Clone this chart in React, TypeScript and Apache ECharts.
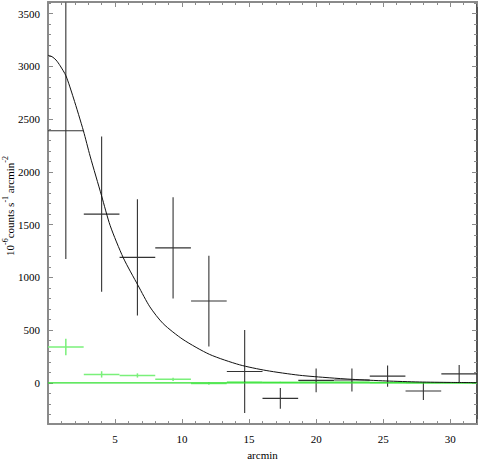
import React, { useEffect, useRef } from "react";
import * as echarts from "echarts";

// Radial bins (arcmin)
const binCenters = [1.33, 4, 6.67, 9.33, 12, 14.67, 17.33, 20, 22.67, 25.33, 28, 30.67];
const binHalfWidths = [1.33, 1.33, 1.33, 1.33, 1.33, 1.33, 1.33, 1.33, 1.33, 1.33, 1.33, 1.33];

// Source profile (black)
const sourceValues = [2390, 1600, 1190, 1280, 776, 108, -146, 24, 28, 65, -77, 86];
const sourceErrors = [1215, 735, 550, 480, 430, 393, 98, 112, 108, 100, 85, 85];

// Background profile (green)
const bgValues = [340, 81, 71, 34, -6, 9, 6, 10, 8, 4, 2, 2];
const bgErrors = [78, 30, 20, 15, 10, 8, 6, 6, 5, 5, 4, 4];

// Model curve (black)
const modelX = [0, 0.3, 0.6, 0.91, 1.34, 1.9, 2.64, 3.14, 4.0, 4.64, 5.62, 6.73, 7.6, 8.59, 10.07, 12.06, 14.29, 16.27, 18.74, 20.97, 22.7, 25.2, 27.7, 30, 32];
const modelY = [3105, 3092, 3060, 3005, 2910, 2700, 2390, 2150, 1772, 1490, 1185, 921, 721, 562, 412, 270, 172, 118, 73, 49, 34, 19, 9, 5, 3];

// Background model (green)
const bgModelX = [0, 32];
const bgModelY = [0, 0];

const xTickStep = 5;
const yTickStep = 500;

// Y axis title pieces: [text, isSuperscript]
const yTitleParts: [string, boolean][] = [
  ["10", false],
  ["-6", true],
  ["counts s", false],
  ["-1", true],
  [" arcmin", false],
  ["-2", true],
];

const FAMILY = "Liberation Serif";
const FONT = "'Liberation Serif', 'Times New Roman', serif";

function errorBarSeries(values: number[], errors: number[], color: string, width: number) {
  return {
    type: "custom",
    xAxisIndex: 0,
    yAxisIndex: 0,
    clip: true,
    silent: true,
    encode: { x: 0, y: 1 },
    data: binCenters.map((x, i) => [x, values[i], binHalfWidths[i], errors[i]]),
    renderItem: (params: any, api: any) => {
      const x = api.value(0);
      const y = api.value(1);
      const xe = api.value(2);
      const ye = api.value(3);
      const a = api.coord([x - xe, y]);
      const b = api.coord([x + xe, y]);
      const c = api.coord([x, y - ye]);
      const d = api.coord([x, y + ye]);
      return {
        type: "group",
        children: [
          {
            type: "line",
            shape: { x1: a[0], y1: a[1], x2: b[0], y2: b[1] },
            style: { stroke: color, lineWidth: width },
          },
          {
            type: "line",
            shape: { x1: c[0], y1: c[1], x2: d[0], y2: d[1] },
            style: { stroke: color, lineWidth: width },
          },
        ],
      };
    },
  };
}

function buildYTitle(centerY: number, baseX: number) {
  const canvas = document.createElement("canvas");
  const ctx = canvas.getContext("2d")!;
  const items: any[] = [];
  let offset = 0;
  const widths = yTitleParts.map(([t, sup]) => {
    ctx.font = `${sup ? 8 : 11}px "${FAMILY}"`;
    return ctx.measureText(t).width;
  });
  const total = widths.reduce((s, w) => s + w, 0);
  yTitleParts.forEach(([t, sup], i) => {
    items.push({
      type: "text",
      x: offset,
      y: sup ? -4 : 0,
      style: {
        text: t,
        fontFamily: FONT,
        fontSize: sup ? 8 : 11,
        fill: "#000",
        align: "left",
        verticalAlign: "middle",
        textAlign: "left",
        textVerticalAlign: "middle",
      },
    });
    offset += widths[i];
  });
  return {
    type: "group",
    x: baseX,
    y: centerY + total / 2,
    rotation: Math.PI / 2,
    silent: true,
    children: items,
  };
}

export default function App() {
  const ref = useRef<HTMLDivElement>(null);

  useEffect(() => {
    if (!ref.current) return;
    const chart = echarts.init(ref.current, null, { renderer: "svg" });
    const axisGrey = "#8a8a8a";
    const labelStyle = { fontFamily: FONT, fontSize: 11, color: "#000" };

    const option: any = {
      animation: false,
      backgroundColor: "#fff",
      textStyle: { fontFamily: FONT },
      grid: { left: 48, right: 1, top: 2, bottom: 32, containLabel: false },
      graphic: [buildYTitle(206, 9.5)],
      xAxis: [
        {
          type: "value",
          position: "bottom",
          min: 0,
          max: 32,
          interval: xTickStep,
          name: "arcmin",
          nameLocation: "middle",
          nameGap: 24,
          nameTextStyle: { fontFamily: FONT, fontSize: 11, color: "#000" },
          axisLine: { show: true, onZero: false, lineStyle: { color: axisGrey, width: 2 } },
          axisTick: { show: true, inside: true, length: 5, lineStyle: { color: axisGrey } },
          minorTick: { show: true, splitNumber: 5, length: 3, lineStyle: { color: axisGrey } },
          splitLine: { show: false },
          axisLabel: {
            ...labelStyle,
            margin: 9,
            formatter: (v: number) => (v > 0 && v % xTickStep === 0 ? String(v) : ""),
          },
        },
        {
          type: "value",
          position: "top",
          min: 0,
          max: 32,
          interval: xTickStep,
          axisLine: { show: true, onZero: false, lineStyle: { color: axisGrey, width: 2 } },
          axisTick: { show: true, inside: true, length: 5, lineStyle: { color: axisGrey } },
          minorTick: { show: true, splitNumber: 5, length: 3, lineStyle: { color: axisGrey } },
          splitLine: { show: false },
          axisLabel: { show: false },
        },
      ],
      yAxis: [
        {
          type: "value",
          position: "left",
          min: -390,
          max: 3610,
          splitNumber: 8,
          axisLine: { show: true, onZero: false, lineStyle: { color: axisGrey, width: 2 } },
          axisTick: { show: true, inside: true, length: 5, lineStyle: { color: axisGrey } },
          minorTick: { show: true, splitNumber: 5, length: 3, lineStyle: { color: axisGrey } },
          splitLine: { show: false },
          axisLabel: {
            ...labelStyle,
            margin: 8,
            formatter: (v: number) => (v % yTickStep === 0 ? String(v) : ""),
          },
        },
        {
          type: "value",
          position: "right",
          min: -390,
          max: 3610,
          splitNumber: 8,
          axisLine: { show: true, onZero: false, lineStyle: { color: "#555", width: 2 } },
          axisTick: { show: true, inside: true, length: 5, lineStyle: { color: axisGrey } },
          minorTick: { show: true, splitNumber: 5, length: 3, lineStyle: { color: axisGrey } },
          splitLine: { show: false },
          axisLabel: { show: false },
        },
      ],
      series: [
        {
          type: "line",
          xAxisIndex: 0,
          yAxisIndex: 0,
          data: bgModelX.map((x, i) => [x, bgModelY[i]]),
          symbol: "none",
          silent: true,
          lineStyle: { color: "#2ee02e", width: 1.2 },
        },
        {
          type: "line",
          xAxisIndex: 0,
          yAxisIndex: 0,
          data: modelX.map((x, i) => [x, modelY[i]]),
          symbol: "none",
          smooth: 0.25,
          silent: true,
          lineStyle: { color: "#111", width: 1 },
        },
        errorBarSeries(bgValues, bgErrors, "#7af07a", 1.5),
        errorBarSeries(sourceValues, sourceErrors, "#333", 1.1),
      ],
    };

    chart.setOption(option);
    return () => chart.dispose();
  }, []);

  return (
    <div
      ref={ref}
      style={{ position: "absolute", left: 0, top: 0, width: 480, height: 465 }}
    />
  );
}
